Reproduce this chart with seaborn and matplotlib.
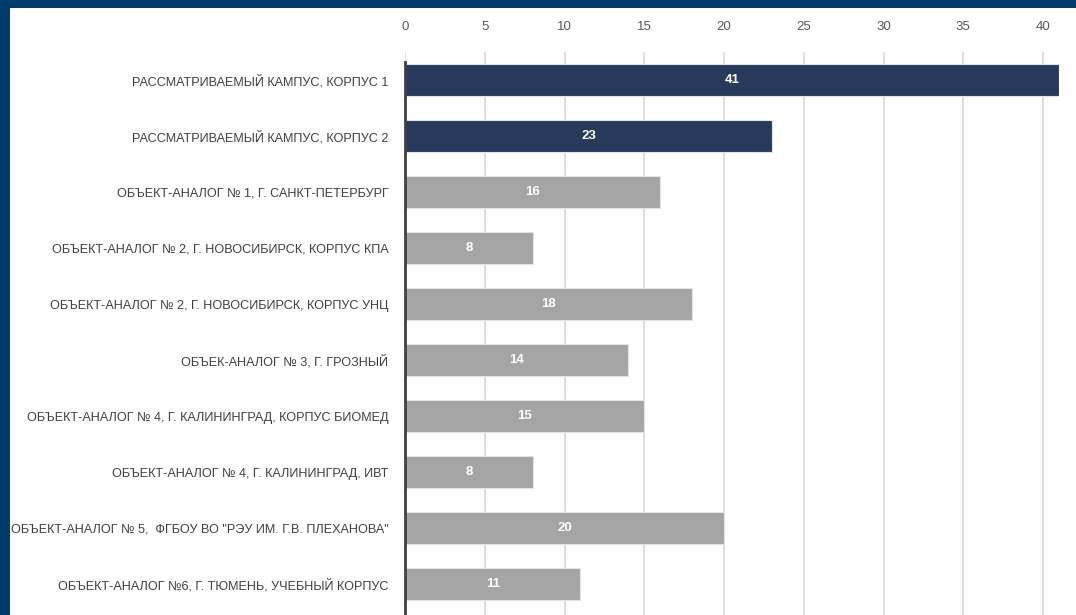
import matplotlib
matplotlib.use("Agg")
import matplotlib.pyplot as plt
import seaborn as sns
import pandas as pd
from matplotlib import font_manager

categories = [
    "РАССМАТРИВАЕМЫЙ КАМПУС, КОРПУС 1",
    "РАССМАТРИВАЕМЫЙ КАМПУС, КОРПУС 2",
    "ОБЪЕКТ-АНАЛОГ № 1, Г. САНКТ-ПЕТЕРБУРГ",
    "ОБЪЕКТ-АНАЛОГ № 2, Г. НОВОСИБИРСК, КОРПУС КПА",
    "ОБЪЕКТ-АНАЛОГ № 2, Г. НОВОСИБИРСК, КОРПУС УНЦ",
    "ОБЪЕК-АНАЛОГ № 3, Г. ГРОЗНЫЙ",
    "ОБЪЕКТ-АНАЛОГ № 4, Г. КАЛИНИНГРАД, КОРПУС БИОМЕД",
    "ОБЪЕКТ-АНАЛОГ № 4, Г. КАЛИНИНГРАД, ИВТ",
    "ОБЪЕКТ-АНАЛОГ № 5,  ФГБОУ ВО \"РЭУ ИМ. Г.В. ПЛЕХАНОВА\"",
    "ОБЪЕКТ-АНАЛОГ №6, Г. ТЮМЕНЬ, УЧЕБНЫЙ КОРПУС",
]
values = [41, 23, 16, 8, 18, 14, 15, 8, 20, 11]
groups = ["campus", "campus"] + ["analog"] * 8
xticks = [0, 5, 10, 15, 20, 25, 30, 35, 40]

color_map = {"campus": "#1f3864", "analog": "#a5a5a5"}
bar_colors = [color_map[g] for g in groups]

sns.set_theme(style="white")
names = {f.name for f in font_manager.fontManager.ttflist}
fam = "Liberation Sans Narrow" if "Liberation Sans Narrow" in names else "Liberation Sans"
plt.rcParams["font.family"] = [fam, "DejaVu Sans"]

df = pd.DataFrame({"cat": categories, "val": values})

fig = plt.figure(figsize=(10.76, 6.15), dpi=100)
fig.patch.set_facecolor("#003b6a")

# white page behind the chart
bg = fig.add_axes([10 / 1076, 0, 1 - 10 / 1076, 1 - 8 / 615], zorder=0)
bg.set_facecolor("white")
bg.set_xticks([])
bg.set_yticks([])
for s in bg.spines.values():
    s.set_visible(False)

ax = fig.add_axes([405 / 1076, 0, (1059 - 405) / 1076, (615 - 52) / 615], zorder=1)
ax.set_facecolor("none")

sns.barplot(data=df, x="val", y="cat", hue="cat", palette=bar_colors,
            legend=False, orient="h", width=0.57, ax=ax,
            edgecolor="#dfe3ea", linewidth=0.8, zorder=3)

ax.set_xlim(0, 41)
ax.set_ylim(9.55, -0.5)
ax.set_xticks(xticks)
ax.xaxis.tick_top()
ax.tick_params(axis="x", length=0, pad=14, labelsize=9.5, labelcolor="#595959")
ax.tick_params(axis="y", length=0, pad=12, labelsize=9.1, labelcolor="#404040")
ax.set_xlabel("")
ax.set_ylabel("")
ax.grid(axis="x", color="#d9d9d9", linewidth=1.2, zorder=0)
ax.set_axisbelow(True)

for s in ["top", "right", "bottom"]:
    ax.spines[s].set_visible(False)
ax.spines["left"].set_color("#404040")
ax.spines["left"].set_linewidth(2)
ax.spines["left"].set_bounds(9.55, -0.32)
ax.spines["left"].set_zorder(5)

for c in ax.containers:
    ax.bar_label(c, label_type="center", color="white", fontweight="bold",
                 fontsize=9.5)

fig.savefig("out.png", dpi=100, facecolor=fig.get_facecolor())
